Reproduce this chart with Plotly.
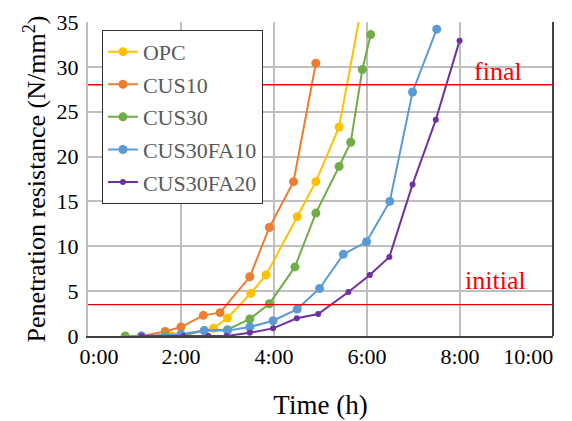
import plotly.graph_objects as go

# Data (time in hours, penetration resistance in N/mm^2)
opc_t = [1.8, 2.0, 2.7, 3.0, 3.5, 3.83, 4.5, 4.9, 5.4, 6.0]
opc_v = [0.0, 0.1, 0.85, 2.0, 4.75, 6.8, 13.3, 17.2, 23.3, 40.0]

cus10_t = [1.15, 1.66, 2.0, 2.48, 2.84, 3.48, 3.9, 4.42, 4.9]
cus10_v = [0.0, 0.5, 1.0, 2.3, 2.6, 6.6, 12.1, 17.2, 30.4]

cus30_t = [0.8, 1.66, 2.0, 2.5, 3.0, 3.48, 3.9, 4.45, 4.9, 5.4, 5.65, 5.9, 6.08]
cus30_v = [0.0, 0.0, 0.0, 0.6, 0.7, 1.9, 3.6, 7.7, 13.7, 18.9, 21.6, 29.7, 33.6]

fa10_t = [1.15, 2.0, 2.5, 3.0, 3.48, 3.98, 4.5, 4.98, 5.49, 5.99, 6.49, 6.98, 7.5]
fa10_v = [0.0, 0.2, 0.6, 0.6, 1.0, 1.7, 3.0, 5.3, 9.1, 10.5, 15.0, 27.2, 34.2]

fa20_t = [1.15, 2.05, 2.59, 2.98, 3.48, 3.98, 4.49, 4.95, 5.6, 6.06, 6.48, 6.98, 7.48, 7.99]
fa20_v = [0.0, 0.0, 0.0, 0.0, 0.37, 0.85, 1.97, 2.45, 4.9, 6.8, 8.8, 16.9, 24.1, 32.9]

series_names = ["OPC", "CUS10", "CUS30", "CUS30FA10", "CUS30FA20"]
series_t = [opc_t, cus10_t, cus30_t, fa10_t, fa20_t]
series_v = [opc_v, cus10_v, cus30_v, fa10_v, fa20_v]
colors = ["#FFC000", "#ED7D31", "#70AD47", "#5B9BD5", "#7030A0"]
msizes = [9, 9, 9, 9, 6]

tick_vals = [0, 2, 4, 6, 8, 10]
tick_text = ["\u00a0\u00a0\u00a0\u00a00:00", "2:00", "4:00", "6:00", "8:00",
             "10:00\u00a0\u00a0\u00a0\u00a0\u00a0\u00a0\u00a0\u00a0\u00a0"]

final_level = 28.0
initial_level = 3.5

FONT = "Liberation Serif, Times New Roman, serif"

fig = go.Figure()
for name, t, v, c, ms in zip(series_names, series_t, series_v, colors, msizes):
    fig.add_trace(go.Scatter(
        x=t, y=v, name=name, mode="lines+markers", legendgroup=name,
        line=dict(color=c, width=2),
        marker=dict(color=c, size=ms),
        cliponaxis=True,
    ))

# reference lines
fig.add_hline(y=final_level, line=dict(color="#FF0000", width=1.5))
fig.add_hline(y=initial_level, line=dict(color="#E00000", width=1.2))

fig.add_annotation(x=8.82, y=final_level, xref="x", yref="y", text="final",
                   showarrow=False, yanchor="bottom", yshift=-3,
                   font=dict(family=FONT, size=26, color="#FF0000"))
fig.add_annotation(x=8.77, y=initial_level, xref="x", yref="y", text="initial",
                   showarrow=False, yanchor="bottom", yshift=8,
                   font=dict(family=FONT, size=26, color="#FF0000"))

# right border
fig.add_shape(type="line", xref="paper", yref="paper", x0=1, x1=1, y0=0, y1=1,
              line=dict(color="#404040", width=2))

fig.update_layout(
    width=564, height=413,
    margin=dict(l=80, r=19, t=14, b=85),
    paper_bgcolor="white", plot_bgcolor="white",
    font=dict(family=FONT, size=22, color="black"),
    showlegend=True,
    legend=dict(
        x=0.03, y=0.975, xanchor="left", yanchor="top",
        bgcolor="white", bordercolor="#303030", borderwidth=1,
        font=dict(family=FONT, size=22, color="#595959"),
        traceorder="grouped", tracegroupgap=1, itemwidth=30,
    ),
    xaxis=dict(
        range=[0, 10], tickvals=tick_vals, ticktext=tick_text,
        showgrid=True, gridcolor="#BFBFBF", gridwidth=2,
        showline=True, linecolor="#404040", linewidth=2,
        zeroline=False, ticks="", ticklen=0, automargin=False,
        ticklabeloverflow="allow",
        title=dict(text="Time (h)", font=dict(family=FONT, size=27), standoff=27),
        tickfont=dict(family=FONT, size=22, color="black"),
    ),
    yaxis=dict(
        range=[0, 35], dtick=5,
        showgrid=True, gridcolor="#BFBFBF", gridwidth=2,
        showline=True, linecolor="#BFBFBF", linewidth=2,
        zeroline=False, ticks="", automargin=False,
        ticklabelstandoff=3,
        title=dict(text="Penetration resistance (N/mm<sup>2</sup>)",
                   font=dict(family=FONT, size=26), standoff=3),
        tickfont=dict(family=FONT, size=22, color="black"),
    ),
)

fig.write_html("out.html")
